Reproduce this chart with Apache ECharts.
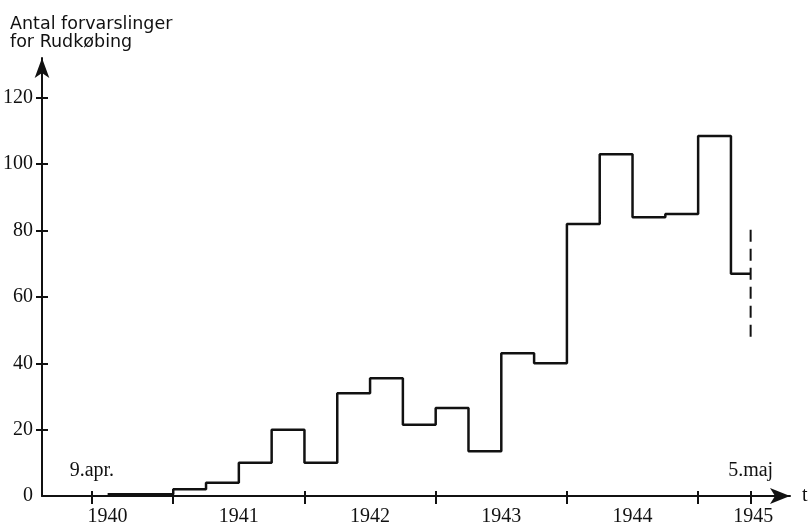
<!DOCTYPE html>
<html>
<head>
<meta charset="utf-8">
<script src="https://cdn.jsdelivr.net/npm/echarts@6/dist/echarts.min.js"></script>
<style>
  html, body { margin: 0; padding: 0; background: #fff; }
  #chart { width: 812px; height: 528px; }
</style>
</head>
<body>
<div id="chart"></div>
<script>
// quarterly warnings, each value holds from its start until the next start
const quarterStarts = [
  1940.5, 1940.75,
  1941.0, 1941.25, 1941.5, 1941.75,
  1942.0, 1942.25, 1942.5, 1942.75,
  1943.0, 1943.25, 1943.5, 1943.75,
  1944.0, 1944.25, 1944.5, 1944.75,
  1945.0, 1945.25,
];
const counts = [
  0.5, 0.5,
  2, 4, 10, 20,
  10, 31, 35.5, 21.5,
  26.5, 13.5, 43, 40,
  82, 103, 84, 85,
  108.5, 67,
];
const endOfWar = 1945.4;          // 5. maj
const uncertainRange = [48, 81];  // dashed bar at the end

const yTickValues = [20, 40, 60, 80, 100, 120];
const yLabelValues = [0, 20, 40, 60, 80, 100, 120];
const xTickValues = [1940.38, 1941, 1942, 1943, 1944, 1945, 1945.4];
const yearLabelPos = [1940.5, 1941.5, 1942.5, 1943.5, 1944.5, 1945.42];
const yearLabels = ["1940", "1941", "1942", "1943", "1944", "1945"];
const dateMarkPos = [1940.38, 1945.4];
const dateMarkLabels = ["9.apr.", "5.maj"];

const ink = "#111";
const digitFont = { color: ink, fontFamily: "Liberation Serif", fontSize: 20 };

const stepData = quarterStarts.map((x, i) => [x, counts[i]]);
stepData.push([endOfWar, counts[counts.length - 1]]);

const chart = echarts.init(document.getElementById("chart"));
chart.setOption({
  animation: false,
  backgroundColor: "#fff",
  title: {
    text: "Antal forvarslinger\nfor Rudkøbing",
    left: 5,
    top: 10,
    textStyle: {
      color: ink,
      fontFamily: "DejaVu Sans",
      fontWeight: "normal",
      fontSize: 17.5,
      lineHeight: 18,
    },
  },
  grid: { left: 42, right: 22, top: 58, bottom: 32 },
  xAxis: [
    {
      type: "value",
      position: "bottom",
      min: 1940,
      max: 1945.7,
      name: "t",
      nameLocation: "end",
      nameGap: 12,
      nameTextStyle: digitFont,
      splitLine: { show: false },
      axisLine: {
        lineStyle: { color: ink, width: 2 },
        symbol: ["none", "arrow"],
        symbolSize: [12, 20],
      },
      axisTick: { customValues: xTickValues, length: 8, lineStyle: { color: ink, width: 2 } },
      axisLabel: {
        customValues: yearLabelPos,
        margin: 11,
        formatter: (v) => yearLabels[yearLabelPos.indexOf(v)] || "",
        ...digitFont,
      },
    },
    {
      type: "value",
      position: "bottom",
      min: 1940,
      max: 1945.7,
      splitLine: { show: false },
      axisLine: { show: false },
      axisTick: { customValues: xTickValues, inside: true, length: 5, lineStyle: { color: ink, width: 2 } },
      axisLabel: {
        inside: true,
        customValues: dateMarkPos,
        margin: 15,
        formatter: (v) => dateMarkLabels[dateMarkPos.indexOf(v)] || "",
        ...digitFont,
      },
    },
  ],
  yAxis: [
    {
      type: "value",
      position: "left",
      min: 0,
      max: 132,
      splitLine: { show: false },
      axisLine: {
        lineStyle: { color: ink, width: 2 },
        symbol: ["none", "arrow"],
        symbolSize: [11, 20],
      },
      axisTick: { customValues: yTickValues, length: 6, lineStyle: { color: ink, width: 2 } },
      axisLabel: { customValues: yLabelValues, margin: 9, ...digitFont },
    },
    {
      type: "value",
      position: "left",
      min: 0,
      max: 132,
      splitLine: { show: false },
      axisLine: { show: false },
      axisTick: { customValues: yTickValues, inside: true, length: 6, lineStyle: { color: ink, width: 2 } },
      axisLabel: { show: false },
    },
  ],
  series: [
    {
      type: "line",
      step: "end",
      data: stepData,
      showSymbol: false,
      lineStyle: { color: ink, width: 2.5 },
    },
    {
      type: "line",
      data: [[endOfWar, uncertainRange[0]], [endOfWar, uncertainRange[1]]],
      showSymbol: false,
      lineStyle: { color: ink, width: 2, type: [12, 7] },
    },
  ],
});
</script>
</body>
</html>
